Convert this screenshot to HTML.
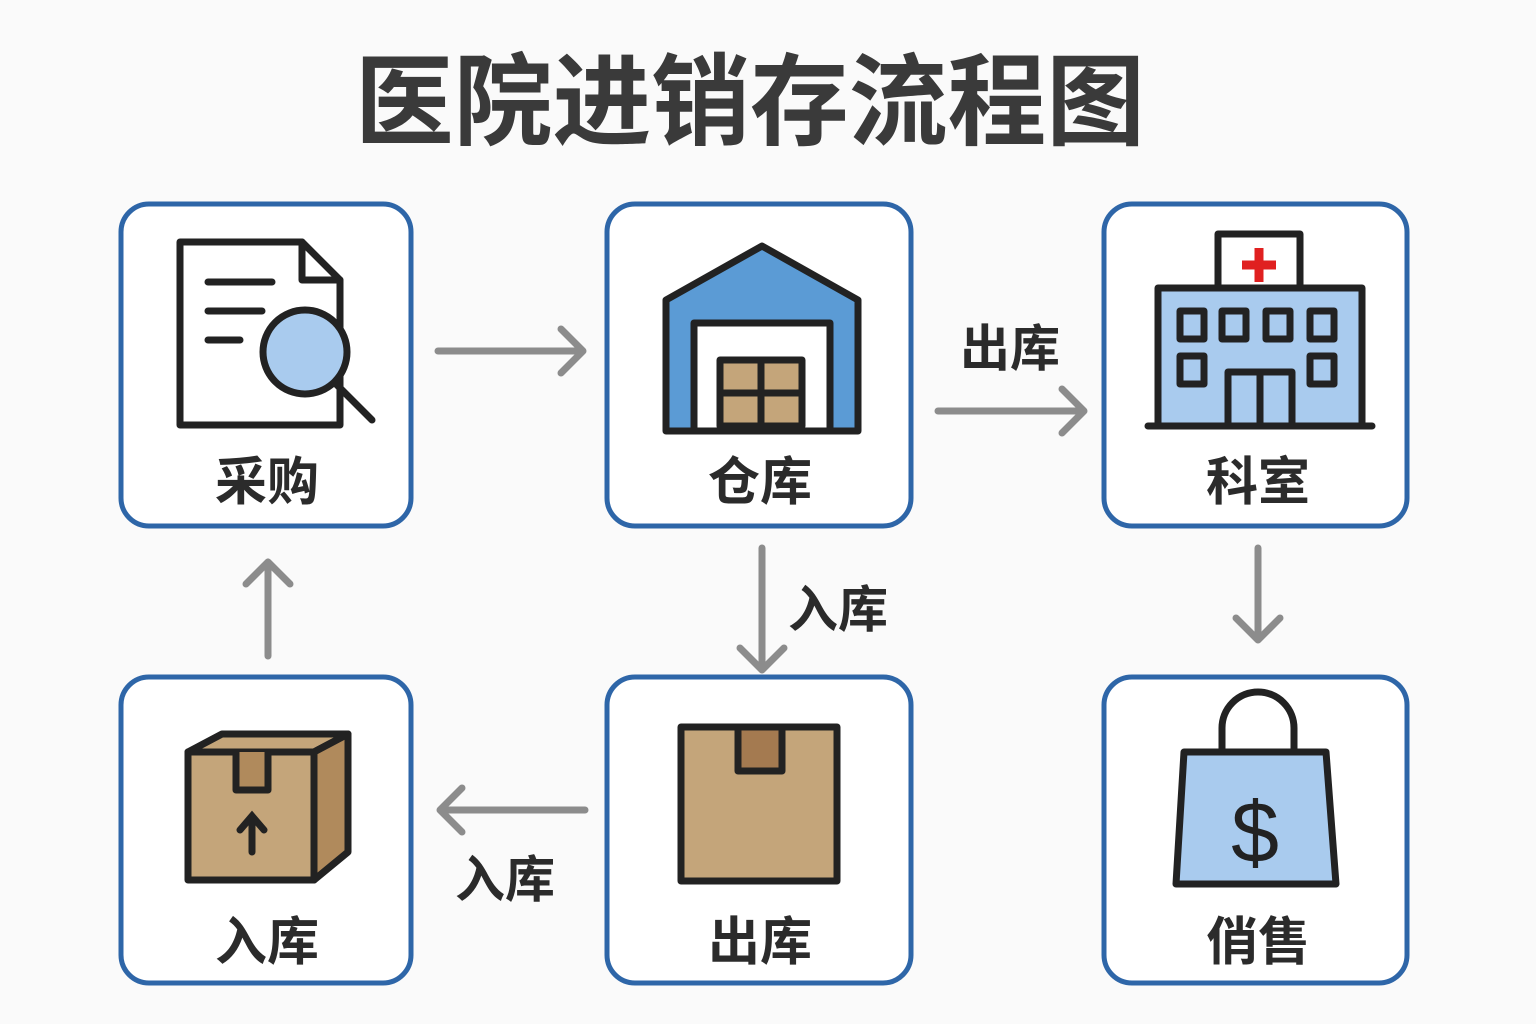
<!DOCTYPE html>
<html><head><meta charset="utf-8">
<style>
html,body{margin:0;padding:0;background:#fafafa;}
body{width:1536px;height:1024px;overflow:hidden;position:relative;font-family:"Liberation Sans","Noto Sans CJK SC",sans-serif;}
</style></head>
<body>
<svg width="1536" height="1024" viewBox="0 0 1536 1024" xmlns="http://www.w3.org/2000/svg" style="position:absolute;left:0;top:0">
<style>
text{font-family:"Liberation Sans","Noto Sans CJK SC",sans-serif;font-weight:700;fill:#2b2b2b}
.box{fill:#fff;stroke:#2e66a8;stroke-width:5}
.ar{stroke:#8c8c8c;stroke-width:7;fill:none;stroke-linecap:round;stroke-linejoin:round}
.ic{stroke:#222;stroke-width:7;stroke-linejoin:round;stroke-linecap:round}
</style>
<text x="355" y="137" font-size="100" textLength="790" lengthAdjust="spacingAndGlyphs" style="fill:#3a3a3a">医院进销存流程图</text>

<rect class="box" x="121" y="204" width="290" height="322" rx="28"/>
<rect class="box" x="607" y="204" width="304" height="322" rx="28"/>
<rect class="box" x="1104" y="204" width="303" height="322" rx="28"/>
<rect class="box" x="121" y="677" width="290" height="306" rx="28"/>
<rect class="box" x="607" y="677" width="304" height="306" rx="28"/>
<rect class="box" x="1104" y="677" width="303" height="306" rx="28"/>

<text x="267" y="500" text-anchor="middle" font-size="52">采购</text>
<text x="760" y="500" text-anchor="middle" font-size="52">仓库</text>
<text x="1258" y="500" text-anchor="middle" font-size="52">科室</text>
<text x="267" y="960" text-anchor="middle" font-size="52">入库</text>
<text x="760" y="960" text-anchor="middle" font-size="52">出库</text>
<text x="1258" y="960" text-anchor="middle" font-size="52">俏售</text>

<path class="ar" d="M438 351H583M561 329L583 351L561 373"/>
<path class="ar" d="M938 411H1084M1062 389L1084 411L1062 433"/>
<text x="1010" y="366" text-anchor="middle" font-size="50">出库</text>
<path class="ar" d="M762 548V670M740 648L762 670L784 648"/>
<text x="838" y="627" text-anchor="middle" font-size="50">入库</text>
<path class="ar" d="M1258 548V640M1236 618L1258 640L1280 618"/>
<path class="ar" d="M585 810H440M462 788L440 810L462 832"/>
<text x="505" y="897" text-anchor="middle" font-size="50">入库</text>
<path class="ar" d="M268 656V562M246 584L268 562L290 584"/>

<path class="ic" d="M180 242H302L340 280V425H180Z" fill="#fff"/>
<path class="ic" d="M302 242V280H340" fill="none"/>
<path class="ic" d="M208 282H272M208 311H262M208 340H240" fill="none"/>
<circle class="ic" cx="305" cy="352" r="42" fill="#a9cbee"/>
<path class="ic" d="M336 384L372 420" fill="none" stroke-width="10"/>

<path class="ic" d="M666 300L762 246L858 300V431H666Z" fill="#5b9bd5"/>
<rect class="ic" x="694" y="323" width="136" height="108" fill="#fff"/>
<rect class="ic" x="720" y="360" width="82" height="66" fill="#c4a57a"/>
<path class="ic" d="M720 393H802M761 360V426" fill="none"/>

<rect class="ic" x="1218" y="234" width="82" height="54" fill="#fff"/>
<path d="M1259 248V282M1242 265H1276" stroke="#e02020" stroke-width="9"/>
<rect class="ic" x="1158" y="288" width="204" height="138" fill="#a9cbee"/>
<path class="ic" d="M1148 426H1372" fill="none"/>
<g fill="#a9cbee" class="ic" stroke-width="6">
<rect x="1180" y="311" width="24" height="28"/><rect x="1222" y="311" width="24" height="28"/><rect x="1266" y="311" width="24" height="28"/><rect x="1310" y="311" width="24" height="28"/>
<rect x="1180" y="356" width="24" height="28"/><rect x="1310" y="356" width="24" height="28"/>
<rect x="1228" y="372" width="64" height="54"/>
</g>
<path class="ic" d="M1260 372V426" fill="none" stroke-width="6"/>

<path class="ic" d="M188 752L222 734H348L314 752Z" fill="#c4a57a"/>
<path class="ic" d="M314 752L348 734V852L314 880Z" fill="#b08a5c"/>
<rect class="ic" x="188" y="752" width="126" height="128" fill="#c4a57a"/>
<path class="ic" d="M236 752V790H268V752" fill="#b08a5c"/>
<path d="M252 852V820M240 830L252 816L264 830" stroke="#222" stroke-width="7" fill="none" stroke-linecap="round"/>

<rect class="ic" x="681" y="727" width="156" height="154" fill="#c4a57a"/>
<rect class="ic" x="738" y="727" width="44" height="44" fill="#a47a50"/>

<path class="ic" d="M1222 752V728a36 36 0 0 1 72 0V752" fill="none"/>
<path class="ic" d="M1184 752H1326L1336 884H1176Z" fill="#a9cbee"/>
<text x="1255" y="862" text-anchor="middle" font-size="86" style="fill:#222;font-weight:400">$</text>
</svg>
</body></html>
